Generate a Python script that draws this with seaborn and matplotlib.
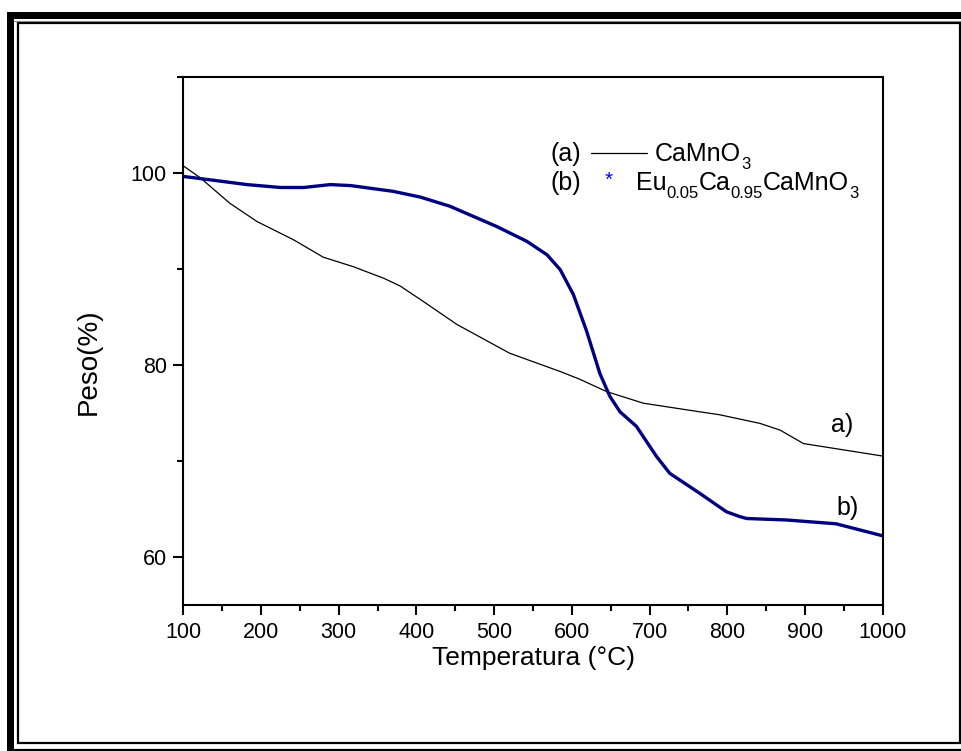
import matplotlib
matplotlib.use("Agg")
import matplotlib.pyplot as plt
from matplotlib.lines import Line2D
from matplotlib.patches import Rectangle
import seaborn as sns
import pandas as pd

# ---- data ----
temp_a = [100, 122, 160, 195, 242, 280, 319, 358, 379, 405, 452, 520, 585, 610,
          645, 692, 765, 790, 842, 868, 898, 1000]
peso_a = [100.7, 99.45, 96.8, 94.9, 93.0, 91.2, 90.2, 89.0, 88.2, 86.8, 84.2, 81.2,
          79.3, 78.5, 77.2, 76.0, 75.1, 74.8, 73.9, 73.2, 71.8, 70.5]

temp_b = [100, 139, 182, 225, 255, 289, 315, 370, 405, 443, 503, 542, 568, 585,
          602, 619, 636, 649, 662, 683, 709, 726, 765, 790, 799, 816, 825, 876,
          940, 1000]
peso_b = [99.6, 99.2, 98.75, 98.45, 98.45, 98.75, 98.65, 98.05, 97.45, 96.5, 94.4,
          92.85, 91.45, 89.9, 87.3, 83.5, 79.1, 76.7, 75.1, 73.6, 70.45, 68.7, 66.6,
          65.2, 64.7, 64.2, 64.0, 63.85, 63.45, 62.2]

x_ticks = [100, 200, 300, 400, 500, 600, 700, 800, 900, 1000]
y_ticks = [60, 80, 100]
x_label = "Temperatura (°C)"
y_label = "Peso(%)"
legend_a_tag = "(a)"
legend_b_tag = "(b)"
legend_a_parts = [("CaMnO", False), ("3", True)]
legend_b_parts = [("Eu", False), ("0.05", True), ("Ca", False), ("0.95", True),
                  ("CaMnO", False), ("3", True)]

# ---- style ----
sns.set_style("ticks")
plt.rcParams["font.family"] = ["Liberation Sans", "DejaVu Sans"]
plt.rcParams["text.color"] = "black"
plt.rcParams["axes.labelcolor"] = "black"
plt.rcParams["xtick.color"] = "black"
plt.rcParams["ytick.color"] = "black"

W, H = 962, 751
fig = plt.figure(figsize=(W / 100, H / 100), dpi=100)
fig.patch.set_facecolor("white")

def fx(px):
    return px / W

def fy(py):
    return 1 - py / H

ax = fig.add_axes([fx(183.3), fy(605), fx(882.7) - fx(183.3), fy(76.5) - fy(605)])

df_a = pd.DataFrame({"T": temp_a, "P": peso_a})
df_b = pd.DataFrame({"T": temp_b, "P": peso_b})
sns.lineplot(data=df_a, x="T", y="P", ax=ax, color="black", linewidth=0.9,
             estimator=None, sort=False)
sns.lineplot(data=df_b, x="T", y="P", ax=ax, color="#000080", linewidth=2.4,
             estimator=None, sort=False)

ax.set_xlim(100, 1000)
ax.set_ylim(55, 110)
ax.set_xticks(x_ticks)
ax.set_xticks([150, 250, 350, 450, 550, 650, 750, 850, 950], minor=True)
ax.set_yticks(y_ticks)
ax.set_yticks([70, 90, 110], minor=True)
ax.tick_params(axis="both", which="major", direction="out", length=7, width=1.5,
               labelsize=15.5, pad=5)
ax.tick_params(axis="both", which="minor", direction="out", length=4, width=1.5)
for s in ax.spines.values():
    s.set_visible(True)
    s.set_linewidth(1.5)
    s.set_color("black")
ax.set_xlabel(x_label, fontsize=19)
ax.set_ylabel(y_label, fontsize=20)
ax.xaxis.set_label_coords(0.5, (605 - 658) / 528.5)
ax.xaxis.label.set_va("center")
ax.yaxis.set_label_coords((89 - 183.3) / 699.4, (605 - 362) / 528.5)
ax.yaxis.label.set_va("center")

# in-plot labels
ax.text(948, 73.7, "a)", fontsize=18, ha="center", va="center")
ax.text(955, 65.1, "b)", fontsize=18, ha="center", va="center")

# legend drawn as text with low subscripts
renderer = fig.canvas.get_renderer()

def chem(x0px, baseline_px, parts, size=18, subsize=12, subdrop=8):
    x = x0px
    for txt, sub in parts:
        t = fig.text(fx(x), fy(baseline_px + (subdrop if sub else 0)), txt,
                     fontsize=subsize if sub else size, ha="left", va="baseline")
        bb = t.get_window_extent(renderer=renderer)
        x += bb.width

fig.text(fx(551), fy(161), legend_a_tag, fontsize=18, va="baseline", ha="left")
fig.add_artist(Line2D([fx(591), fx(647)], [fy(153), fy(153)], color="black", lw=0.9))
chem(655, 161, legend_a_parts)
fig.text(fx(551), fy(190), legend_b_tag, fontsize=18, va="baseline", ha="left")
fig.text(fx(609), fy(180), "*", fontsize=15, color="blue", va="center", ha="center")
chem(636, 190, legend_b_parts)

# decorative page frame
fig.add_artist(Rectangle((fx(7), fy(751)), fx(14) - fx(7), fy(12) - fy(751),
                         transform=fig.transFigure, color="black", lw=0))
fig.add_artist(Rectangle((fx(7), fy(19)), 1 - fx(7), fy(12) - fy(19),
                         transform=fig.transFigure, color="black", lw=0))
fig.add_artist(Line2D([fx(14), 1], [fy(20.5), fy(20.5)], color="#888888", lw=0.8))
fig.add_artist(Rectangle((fx(17.5), fy(743)), fx(960) - fx(17.5), fy(23.5) - fy(743),
                         transform=fig.transFigure, fill=False, edgecolor="black", lw=1.6))
fig.add_artist(Line2D([fx(14), 1], [fy(749.5), fy(749.5)], color="black", lw=1.6))

fig.savefig("out.png", dpi=100, facecolor="white")
